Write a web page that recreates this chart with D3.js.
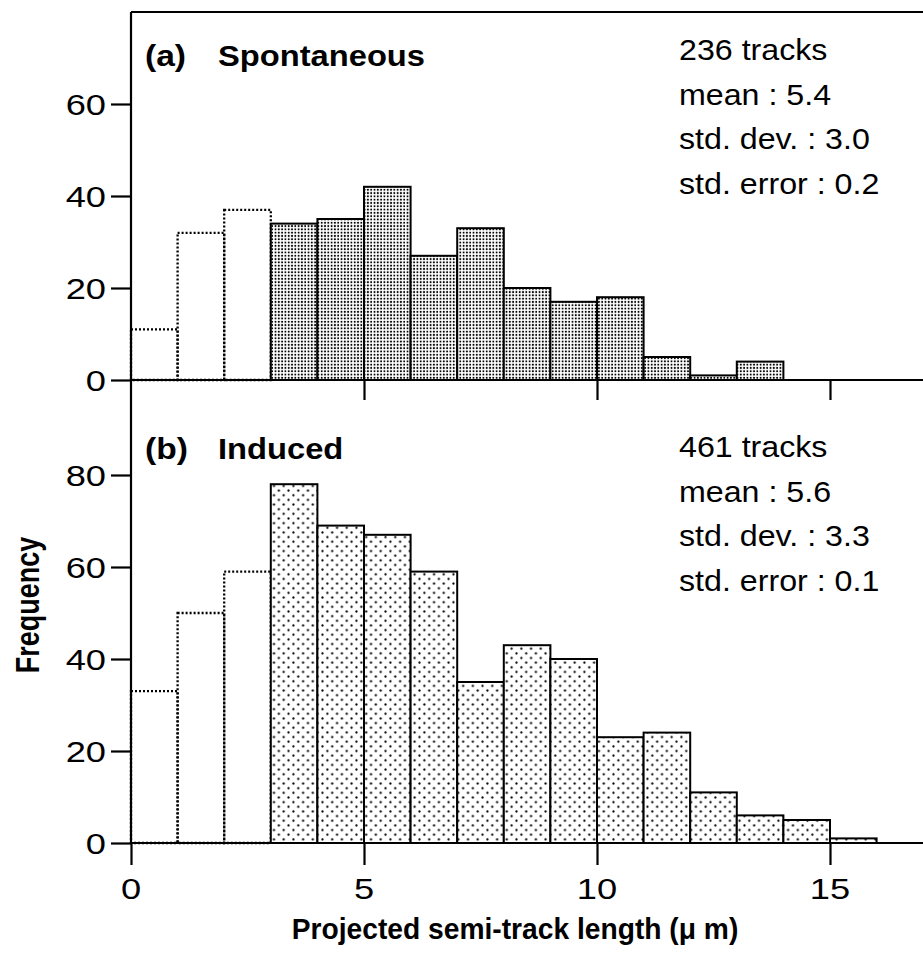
<!DOCTYPE html>
<html>
<head>
<meta charset="utf-8">
<script src="https://cdn.jsdelivr.net/npm/d3@7"></script>
<style>
  body{margin:0;background:#fff}
  text{font-family:"Liberation Sans",Arial,sans-serif;fill:#000}
</style>
</head>
<body>
<script>
// bin = [start, start+1) in micrometres
var spontBins=[0,1,2,3,4,5,6,7,8,9,10,11,12,13]
var spontCounts=[11,32,37,34,35,42,27,33,20,17,18,5,1,4]
var inducedBins=[0,1,2,3,4,5,6,7,8,9,10,11,12,13,14,15]
var inducedCounts=[33,50,59,78,69,67,59,35,43,40,23,24,11,6,5,1]
var cutoff=3   // bins below this are drawn dotted (not counted)
var topTicks=[0,20,40,60]
var bottomTicks=[0,20,40,60,80]
var xTicks=[0,5,10,15]
var spontStats=["236 tracks","mean : 5.4","std. dev. : 3.0","std. error : 0.2"]
var inducedStats=["461 tracks","mean : 5.6","std. dev. : 3.3","std. error : 0.1"]

var screen={width:923,height:958}
var svg=d3.select("body").append("svg").attr("width",screen.width).attr("height",screen.height)

var xScale=d3.scaleLinear().domain([0,15]).range([131,830])
var yTop=d3.scaleLinear().domain([0,80]).range([380,12])
var yBot=d3.scaleLinear().domain([0,100]).range([843,383])

var defs=svg.append("defs")
var dense=defs.append("pattern").attr("id","dense").attr("patternUnits","userSpaceOnUse")
   .attr("width",3.3).attr("height",3.3)
dense.append("rect").attr("width",3.3).attr("height",3.3).attr("fill","#fff")
dense.append("circle").attr("cx",1.6).attr("cy",1.6).attr("r",1).attr("fill","#000")
var sparse=defs.append("pattern").attr("id","sparse").attr("patternUnits","userSpaceOnUse")
   .attr("width",9.7).attr("height",9.3)
sparse.append("rect").attr("width",9.7).attr("height",9.3).attr("fill","#fff")
sparse.append("circle").attr("cx",2.4).attr("cy",2.3).attr("r",1.1).attr("fill","#000")
sparse.append("circle").attr("cx",7.25).attr("cy",6.95).attr("r",1.1).attr("fill","#000")

// text helper, the original lettering is a bit wider than the font
var label=function(x,y,str,size,weight,anchor,sx){
  return svg.append("text")
     .attr("transform","translate("+x+","+y+") scale("+sx+",1)")
     .attr("text-anchor",anchor)
     .style("font-size",size+"px")
     .style("font-weight",weight)
     .text(str)
}

var drawBars=function(bins,counts,yScale,fill){
  var data=bins.map(function(b,i){return {x:b,n:counts[i]}})
  var dotted=data.filter(function(d){return d.x<cutoff})
  var solid=data.filter(function(d){return d.x>=cutoff})
  svg.append("g").selectAll("rect")
     .data(dotted)
     .enter()
     .append("rect")
     .attr("x",function(d){return xScale(d.x)})
     .attr("y",function(d){return yScale(d.n)})
     .attr("width",function(d){return xScale(d.x+1)-xScale(d.x)})
     .attr("height",function(d){return yScale(0)-yScale(d.n)})
     .attr("fill","none")
     .attr("stroke","#000")
     .attr("stroke-width",2.3)
     .attr("stroke-dasharray","2,2")
  svg.append("g").selectAll("rect")
     .data(solid)
     .enter()
     .append("rect")
     .attr("x",function(d){return xScale(d.x)})
     .attr("y",function(d){return yScale(d.n)})
     .attr("width",function(d){return xScale(d.x+1)-xScale(d.x)})
     .attr("height",function(d){return yScale(0)-yScale(d.n)})
     .attr("fill","url(#"+fill+")")
     .attr("stroke","#000")
     .attr("stroke-width",2)
}
drawBars(spontBins,spontCounts,yTop,"dense")
drawBars(inducedBins,inducedCounts,yBot,"sparse")

// frame lines
var frame=[[131,12,923,12],[131,380,923,380],[131,843,923,843],[131,12,131,843]]
svg.append("g").selectAll("line")
   .data(frame)
   .enter()
   .append("line")
   .attr("x1",function(d){return d[0]}).attr("y1",function(d){return d[1]})
   .attr("x2",function(d){return d[2]}).attr("y2",function(d){return d[3]})
   .style("stroke","#000").style("stroke-width",2.2)

// y axes
var styleAxis=function(g){
  g.select(".domain").remove()
  g.selectAll(".tick line").style("stroke-width",2.2)
  g.selectAll(".tick text").remove()
}
svg.append("g").attr("transform","translate(131,0)")
   .call(d3.axisLeft(yTop).tickValues(topTicks).tickSize(20)).call(styleAxis)
svg.append("g").attr("transform","translate(131,0)")
   .call(d3.axisLeft(yBot).tickValues(bottomTicks).tickSize(20)).call(styleAxis)
topTicks.forEach(function(t){label(106,yTop(t)+10.5,t,29,"normal","end",1.25)})
bottomTicks.forEach(function(t){label(106,yBot(t)+10.5,t,29,"normal","end",1.25)})

// x axes: inner ticks under top panel, labelled ticks at bottom
svg.append("g").attr("transform","translate(0,380)")
   .call(d3.axisBottom(xScale).tickValues([5,10,15]).tickSize(20)).call(styleAxis)
svg.append("g").attr("transform","translate(0,843)")
   .call(d3.axisBottom(xScale).tickValues(xTicks).tickSize(22)).call(styleAxis)
xTicks.forEach(function(t){label(xScale(t),899,t,29,"normal","middle",1.25)})

// panel titles and stats
label(145,66,"(a)",30,"bold","start",1.12)
label(218,66,"Spontaneous",30,"bold","start",1.09)
label(145,459,"(b)",30,"bold","start",1.12)
label(218,459,"Induced",30,"bold","start",1.09)
spontStats.forEach(function(s,i){label(679,60+i*44.5,s,29,"normal","start",1.11)})
inducedStats.forEach(function(s,i){label(679,457+i*44.5,s,29,"normal","start",1.11)})

// axis titles
svg.append("text")
   .attr("transform","translate(39,605) rotate(-90) scale(1,1.2)")
   .attr("text-anchor","middle")
   .style("font-size","27px").style("font-weight","bold")
   .text("Frequency")
label(515,939,"Projected semi-track length (\u03bc m)",30,"bold","middle",0.94)
</script>
</body>
</html>
